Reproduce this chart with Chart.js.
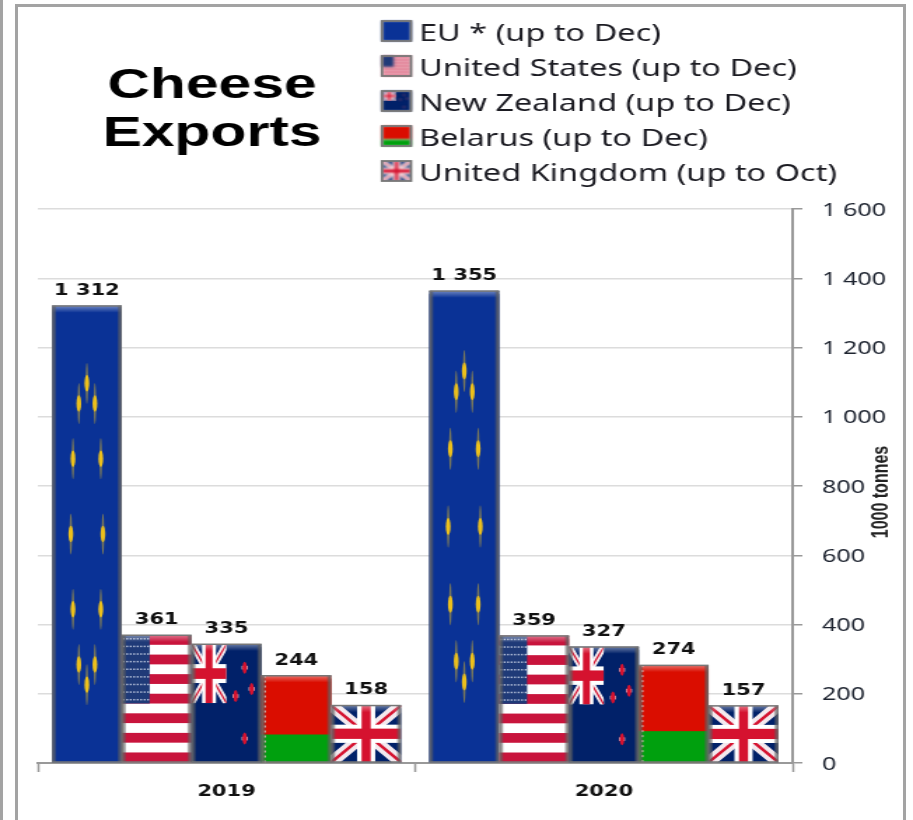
<!DOCTYPE html>
<html>
<head>
<meta charset="utf-8">
<title>Cheese Exports</title>
<script src="https://cdn.jsdelivr.net/npm/chart.js@4"></script>
<style>
  html, body { margin: 0; padding: 0; background: #fff; overflow: hidden; }
  #wrap { position: relative; width: 913px; height: 820px; }
  #chart { position: absolute; left: 0; top: 0; filter: blur(0.45px); }
  .rule { position: absolute; background: #a3a3a3; }
</style>
</head>
<body>
<div id="wrap">
  <div class="rule" style="left:0;top:0;width:3px;height:820px"></div>
  <div class="rule" style="left:15px;top:4px;width:3px;height:816px"></div>
  <div class="rule" style="left:15px;top:4px;width:889px;height:3px"></div>
  <div class="rule" style="left:903px;top:4px;width:3px;height:816px"></div>
  <!-- the source picture is stretched sideways, so the canvas is too -->
  <canvas id="chart" width="652" height="820" style="width:913px;height:820px"></canvas>
</div>
<script>
const STRETCH = 913 / 652

const categories = ['2019', '2020']
const titleLines = ['Cheese', 'Exports']
const unitLabel = '1000 tonnes'

const euValues = [1312, 1355]
const usValues = [361, 359]
const nzValues = [335, 327]
const byValues = [244, 274]
const ukValues = [158, 157]

const seriesNames = [
  'EU * (up to Dec)',
  'United States (up to Dec)',
  'New Zealand (up to Dec)',
  'Belarus (up to Dec)',
  'United Kingdom (up to Oct)',
]

const NAVY = '#012169'
const RED = '#d5122f'

// The 3D bar style sits a few pixels proud of the value it shows
const BEVEL_RISE = 3

// ── Flags ────────────────────────────────────────────────────────────────────
// Each one paints into the box it is given, so it follows the bar's size.
function drawEu(ctx, x, y, w, h) {
  ctx.fillStyle = '#0a3296'
  ctx.fillRect(x, y, w, h)
  if (h < 60) return
  for (let i = 0; i < 12; i++) {
    const a = i * Math.PI / 6
    const sx = x + w / 2 + Math.sin(a) * w * 0.23
    const sy = y + h / 2 - Math.cos(a) * h * 0.33
    // long faint spindle with a bright core, the stars are squeezed this way
    ctx.fillStyle = 'rgba(200,170,50,0.6)'
    ctx.beginPath()
    ctx.ellipse(sx, sy, 0.9, h * 0.045, 0, 0, Math.PI * 2)
    ctx.fill()
    ctx.fillStyle = '#ecc01c'
    ctx.beginPath()
    ctx.ellipse(sx, sy, 1.7, h * 0.018, 0, 0, Math.PI * 2)
    ctx.fill()
  }
}

function drawUs(ctx, x, y, w, h) {
  const band = h / 13
  ctx.fillStyle = '#fff'
  ctx.fillRect(x, y, w, h)
  ctx.fillStyle = '#c8143c'
  for (let i = 0; i < 13; i += 2) ctx.fillRect(x, y + i * band, w, band)
  const cw = w * 0.4
  const ch = band * 7
  ctx.fillStyle = '#1f3a78'
  ctx.fillRect(x, y, cw, ch)
  if (h > 60) {
    ctx.fillStyle = '#c9d2e6'
    for (let r = 0; r < 9; r++) {
      for (let c = 0; c < 8; c++) {
        ctx.fillRect(x + (c + 0.3) * cw / 8, y + (r + 0.4) * ch / 9, 1.2, 1.5)
      }
    }
  }
}

function drawUnionJack(ctx, x, y, w, h, crossShare = 0.13) {
  ctx.save()
  ctx.beginPath()
  ctx.rect(x, y, w, h)
  ctx.clip()
  ctx.fillStyle = NAVY
  ctx.fillRect(x, y, w, h)
  const unit = Math.min(w, h)
  const diag = (color, width) => {
    ctx.strokeStyle = color
    ctx.lineWidth = width
    ctx.beginPath()
    ctx.moveTo(x, y)
    ctx.lineTo(x + w, y + h)
    ctx.moveTo(x + w, y)
    ctx.lineTo(x, y + h)
    ctx.stroke()
  }
  diag('#f3e9ee', unit * 0.2)
  diag(RED, unit * 0.05)
  ctx.fillStyle = '#fff'
  ctx.fillRect(x + w * (0.5 - crossShare), y, w * crossShare * 2, h)
  ctx.fillRect(x, y + h * 0.34, w, h * 0.32)
  ctx.fillStyle = RED
  ctx.fillRect(x + w * (0.5 - crossShare / 2), y, w * crossShare, h)
  ctx.fillRect(x, y + h * 0.41, w, h * 0.18)
  ctx.restore()
}

function drawNz(ctx, x, y, w, h) {
  ctx.fillStyle = NAVY
  ctx.fillRect(x, y, w, h)
  drawUnionJack(ctx, x, y, w * 0.5, h * 0.5, 0.2)
  const southernCross = [[0.76, 0.2], [0.63, 0.44], [0.86, 0.38], [0.76, 0.8]]
  southernCross.forEach(([fx, fy]) => {
    const sx = x + w * fx
    const sy = y + h * fy
    const rx = h > 60 ? 1.6 : 0.5
    const ry = h > 60 ? 6 : 0.6
    ctx.fillStyle = '#f4c9cf'
    ctx.fillRect(sx - rx - 0.5, sy - ry * 0.3, (rx + 0.5) * 2, ry * 0.6)
    ctx.fillStyle = RED
    ctx.beginPath()
    ctx.ellipse(sx, sy, rx, ry, 0, 0, Math.PI * 2)
    ctx.fill()
  })
}

function drawBy(ctx, x, y, w, h) {
  ctx.fillStyle = '#da0d00'
  ctx.fillRect(x, y, w, h * 0.68)
  ctx.fillStyle = '#00a00e'
  ctx.fillRect(x, y + h * 0.68, w, h * 0.32)
  if (h > 60) {
    // hoist ornament, only a speckled strip at this size
    ctx.fillStyle = '#f7d6d0'
    for (let py = y; py < y + h; py += 5) ctx.fillRect(x + 2, py, 1.2, 2)
  }
}

const flagPainters = [drawEu, drawUs, drawNz, drawBy, drawUnionJack]

// Bevel as in the spreadsheet's 3D bar style: lit top edge, shaded sides.
function drawBevel(ctx, x, y, w, h) {
  const top = ctx.createLinearGradient(0, y, 0, y + 7)
  top.addColorStop(0, 'rgba(255,255,255,0.42)')
  top.addColorStop(1, 'rgba(255,255,255,0)')
  ctx.fillStyle = top
  ctx.fillRect(x, y, w, 7)

  const side = 3
  const leftEdge = ctx.createLinearGradient(x, 0, x + side, 0)
  leftEdge.addColorStop(0, '#6a6a6a')
  leftEdge.addColorStop(1, 'rgba(90,90,90,0.35)')
  ctx.fillStyle = leftEdge
  ctx.fillRect(x, y, side, h)
  const rightEdge = ctx.createLinearGradient(x + w - side, 0, x + w, 0)
  rightEdge.addColorStop(0, 'rgba(90,90,90,0.35)')
  rightEdge.addColorStop(1, '#6a6a6a')
  ctx.fillStyle = rightEdge
  ctx.fillRect(x + w - side, y, side, h)

  ctx.fillStyle = '#777'
  ctx.fillRect(x, y - 0.5, w, 1.5)
  ctx.fillRect(x, y + h - 1, w, 1.5)
}

// ── Plugins ──────────────────────────────────────────────────────────────────
const flagBarsPlugin = {
  id: 'flagBars',
  afterDatasetsDraw(chart) {
    const ctx = chart.ctx
    chart.data.datasets.forEach((ds, di) => {
      const meta = chart.getDatasetMeta(di)
      meta.data.forEach((el, i) => {
        const { x, y, base, width } = el.getProps(['x', 'y', 'base', 'width'], true)
        const left = x - width / 2
        const top = y - BEVEL_RISE
        const h = base - top
        ctx.save()
        flagPainters[di](ctx, left, top, width, h)
        drawBevel(ctx, left, top, width, h)
        ctx.restore()

        ctx.save()
        ctx.font = 'bold 15px "DejaVu Sans"'
        ctx.fillStyle = '#111'
        ctx.textAlign = 'center'
        ctx.textBaseline = 'alphabetic'
        ctx.fillText(formatThousands(ds.data[i]), x, top - 11)
        ctx.restore()
      })
    })
  },
}

const annotationsPlugin = {
  id: 'annotations',
  afterDraw(chart) {
    const ctx = chart.ctx
    ctx.save()

    // Title block
    ctx.font = 'bold 42px "Liberation Sans"'
    ctx.fillStyle = '#000'
    ctx.textAlign = 'center'
    titleLines.forEach((line, i) => {
      ctx.fillText(line, 212 / STRETCH, 98 + i * 48)
    })

    // Legend
    ctx.textAlign = 'left'
    ctx.font = '23.2px "Noto Sans"'
    seriesNames.forEach((name, i) => {
      const boxY = 21 + i * 35
      const boxX = 382 / STRETCH
      const boxW = 29 / STRETCH
      ctx.filter = 'blur(0.9px)'
      flagPainters[i](ctx, boxX, boxY, boxW, 20)
      ctx.filter = 'none'
      ctx.strokeStyle = '#777'
      ctx.lineWidth = 1.8
      ctx.strokeRect(boxX, boxY, boxW, 20)
      ctx.fillStyle = '#1b1b22'
      ctx.fillText(name, 419 / STRETCH, boxY + 19.5)
    })

    // Unit label beside the value axis
    ctx.translate(881 / STRETCH, 492)
    ctx.rotate(-Math.PI / 2)
    ctx.font = 'bold 16px "Liberation Sans Narrow", "Liberation Sans"'
    ctx.fillStyle = '#222'
    ctx.textAlign = 'center'
    ctx.textBaseline = 'middle'
    ctx.fillText(unitLabel, 0, 0)
    ctx.restore()
  },
}

function formatThousands(v) {
  return String(v).replace(/\B(?=(\d{3})+$)/g, ' ')
}

new Chart(document.getElementById('chart'), {
  type: 'bar',
  plugins: [flagBarsPlugin, annotationsPlugin],
  data: {
    labels: categories,
    datasets: [
      { label: seriesNames[0], data: euValues, backgroundColor: '#0a3296' },
      { label: seriesNames[1], data: usValues, backgroundColor: '#c8143c' },
      { label: seriesNames[2], data: nzValues, backgroundColor: NAVY },
      { label: seriesNames[3], data: byValues, backgroundColor: '#da0d00' },
      { label: seriesNames[4], data: ukValues, backgroundColor: NAVY },
    ],
  },
  options: {
    responsive: false,
    devicePixelRatio: 1,
    animation: false,
    datasets: { bar: { categoryPercentage: 0.925, barPercentage: 1 } },
    layout: { padding: { top: 209, left: 27, right: 0, bottom: 0 } },
    plugins: { legend: { display: false }, tooltip: { enabled: false } },
    scales: {
      x: {
        afterFit: scale => { scale.height = 57 },
        grid: {
          offset: true,
          drawOnChartArea: false,
          tickLength: 9,
          tickColor: '#999',
          tickWidth: 1.5,
        },
        border: { color: '#999', width: 2 },
        ticks: { color: '#111', font: { family: 'DejaVu Sans', size: 15, weight: 'bold' }, padding: 11 },
      },
      y: {
        position: 'right',
        min: 0,
        max: 1600,
        afterFit: scale => { scale.width = 652 - 566 },
        grid: { color: '#dcdcdc', lineWidth: 1.5, tickLength: 7, tickColor: '#999' },
        border: { color: '#999', width: 2 },
        ticks: {
          stepSize: 200,
          crossAlign: 'near',
          padding: 14,
          labelOffset: 1.5,
          color: '#1e2430',
          font: { family: 'Noto Sans', size: 18 },
          callback: v => formatThousands(v),
        },
      },
    },
  },
})
</script>
</body>
</html>
